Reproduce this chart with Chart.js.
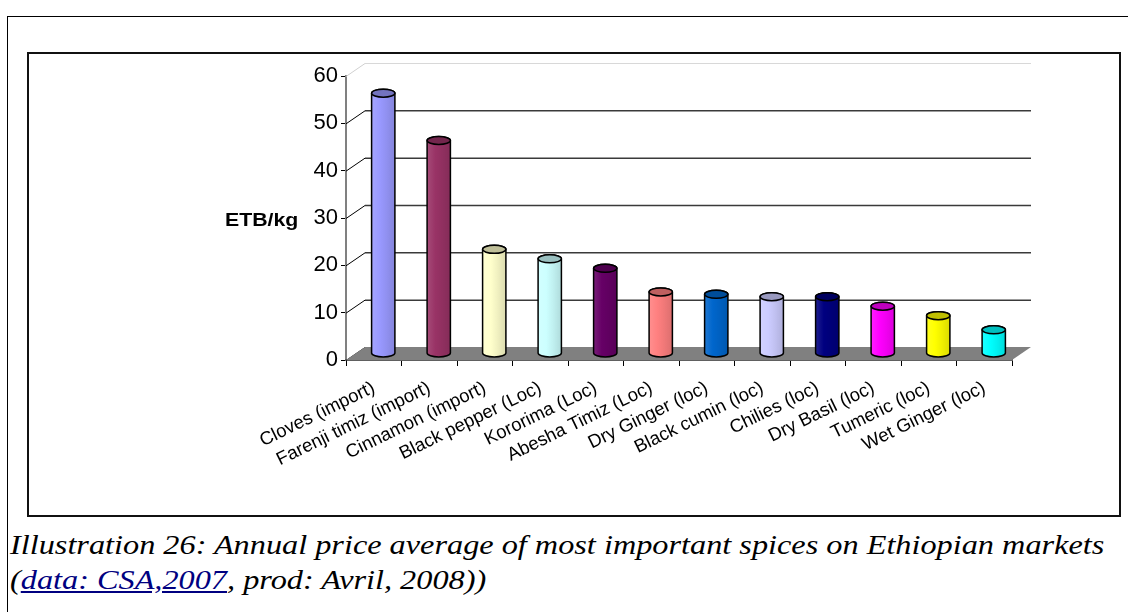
<!DOCTYPE html>
<html>
<head>
<meta charset="utf-8">
<script src="https://cdn.jsdelivr.net/npm/chart.js@4.4.1/dist/chart.umd.min.js"></script>
<style>
  body { margin: 0; background: #fff; width: 1128px; height: 612px; overflow: hidden; position: relative; }
  .frame { position: absolute; left: 7px; top: 16px; right: -5px; bottom: -5px; border-left: 1px solid #000; border-top: 1px solid #000; }
  .box { position: absolute; left: 27px; top: 52px; width: 1090px; height: 461px; border: 2px solid #111; }
  .box canvas { position: absolute; left: 0; top: 0; }
  .ytitle { position: absolute; left: 225px; top: 209px; font: bold 18.5px "Liberation Sans", Arial, sans-serif; color: #000; transform: scaleX(1.15); transform-origin: left top; }
  .caption { position: absolute; left: 10px; top: 527px; font: italic 28px/35px "Liberation Serif", "Times New Roman", serif; color: #000; white-space: nowrap; transform: scaleX(1.153); transform-origin: left top; }
  .caption a { color: #000080; text-decoration: underline; }
</style>
</head>
<body>
<div class="frame"></div>
<div class="box"><canvas id="spiceChart" width="1090" height="461"></canvas></div>
<div class="ytitle">ETB/kg</div>
<div class="caption">Illustration 26: Annual price average of most important spices on Ethiopian markets<br>(<a>data: CSA,2007</a>, prod: Avril, 2008))</div>
<script>
const categories = ['Cloves (import)', 'Farenji timiz (import)', 'Cinnamon (import)', 'Black pepper (Loc)',
  'Kororima (Loc)', 'Abesha Timiz (Loc)', 'Dry Ginger (loc)', 'Black cumin (loc)', 'Chilies (loc)',
  'Dry Basil (loc)', 'Tumeric (loc)', 'Wet Ginger (loc)'];
const prices = [55, 45, 22, 20, 18, 13, 12.5, 12, 12, 10, 8, 5];
const yTicks = [0, 10, 20, 30, 40, 50, 60];

const barColors = ['#9999ff', '#993366', '#ffffcc', '#ccffff', '#660066', '#ff8080',
  '#0066cc', '#ccccff', '#000080', '#ff00ff', '#ffff00', '#00ffff'];

// depth of the fake 3d wall
const DX = 19, DY = -13;

function shade(hex, f) {
  const n = parseInt(hex.slice(1), 16);
  let r = n >> 16, g = (n >> 8) & 255, b = n & 255;
  if (f < 0) { r *= 1 + f; g *= 1 + f; b *= 1 + f; }
  else { r += (255 - r) * f; g += (255 - g) * f; b += (255 - b) * f; }
  return `rgb(${Math.round(r)},${Math.round(g)},${Math.round(b)})`;
}

const wallPlugin = {
  id: 'wall',
  beforeDatasetsDraw(chart) {
    const { ctx, chartArea: a, scales: { y } } = chart;
    ctx.save();
    // back wall gridlines + diagonals
    yTicks.forEach((v, i) => {
      const py = y.getPixelForValue(v);
      const topLine = i === yTicks.length - 1;
      ctx.strokeStyle = topLine ? '#d0d0d0' : '#000';
      ctx.lineWidth = 1;
      ctx.beginPath();
      ctx.moveTo(a.left, py + 0.5);
      ctx.lineTo(a.left + DX, py + DY + 0.5);
      ctx.stroke();
      if (v > 0) {
        ctx.strokeStyle = topLine ? '#d8d8d8' : '#3a3a3a';
        ctx.lineWidth = topLine ? 1 : 1.5;
        ctx.beginPath();
        ctx.moveTo(a.left + DX, py + DY + 0.5);
        ctx.lineTo(a.right + DX, py + DY + 0.5);
        ctx.stroke();
      }
    });
    // floor
    const b = y.getPixelForValue(0);
    ctx.fillStyle = '#808080';
    ctx.beginPath();
    ctx.moveTo(a.left, b);
    ctx.lineTo(a.right, b);
    ctx.lineTo(a.right + DX, b + DY);
    ctx.lineTo(a.left + DX, b + DY);
    ctx.closePath();
    ctx.fill();
    ctx.restore();
  },
  afterDatasetsDraw(chart) {
    const { ctx } = chart;
    const meta = chart.getDatasetMeta(0);
    ctx.save();
    meta.data.forEach((bar, i) => {
      const col = barColors[i];
      const cx = bar.x + DX / 2;
      const top = bar.y + DY / 2;
      const bottom = bar.base + DY / 2;
      const rx = bar.width / 2, ry = 4;
      const grad = ctx.createLinearGradient(cx - rx, 0, cx + rx, 0);
      grad.addColorStop(0, shade(col, 0.12));
      grad.addColorStop(0.35, col);
      grad.addColorStop(0.65, shade(col, -0.06));
      grad.addColorStop(1, shade(col, -0.14));
      ctx.beginPath();
      ctx.moveTo(cx - rx, top);
      ctx.lineTo(cx - rx, bottom);
      ctx.ellipse(cx, bottom, rx, ry, 0, Math.PI, 0, true);
      ctx.lineTo(cx + rx, top);
      ctx.ellipse(cx, top, rx, ry, 0, 0, Math.PI, true);
      ctx.closePath();
      ctx.fillStyle = grad;
      ctx.fill();
      ctx.lineWidth = 1.5;
      ctx.strokeStyle = '#000';
      ctx.stroke();
      // top cap
      ctx.beginPath();
      ctx.ellipse(cx, top, rx, ry, 0, 0, Math.PI * 2);
      ctx.fillStyle = shade(col, -0.25);
      ctx.fill();
      ctx.stroke();
    });
    ctx.restore();
  }
};

new Chart(document.getElementById('spiceChart'), {
  type: 'bar',
  data: {
    labels: categories,
    datasets: [{
      data: prices,
      backgroundColor: 'rgba(0,0,0,0)',
      borderWidth: 0,
      categoryPercentage: 1,
      barPercentage: 0.42
    }]
  },
  options: {
    responsive: false,
    animation: false,
    events: [],
    layout: { padding: { left: 0, top: 22, right: 107, bottom: 0 } },
    plugins: { legend: { display: false }, tooltip: { enabled: false } },
    scales: {
      y: {
        min: 0, max: 60,
        afterFit: s => { s.width = 317; },
        afterBuildTicks: s => { s.ticks = yTicks.map(v => ({ value: v })); },
        grid: { drawOnChartArea: false, tickLength: 5, color: '#000' },
        border: { color: '#808080', width: 2 },
        ticks: { color: '#000', padding: 3, font: { family: 'Liberation Sans', size: 22 } }
      },
      x: {
        afterFit: s => { s.height = 155; },
        grid: { drawOnChartArea: false, tickLength: 6, color: '#000', offset: true },
        border: { color: '#606060', width: 2 },
        ticks: {
          color: '#000', padding: 11, autoSkip: false, minRotation: 26, maxRotation: 26,
          font: { family: 'Liberation Sans', size: 18.5 }
        }
      }
    }
  },
  plugins: [wallPlugin]
});
</script>
</body>
</html>
